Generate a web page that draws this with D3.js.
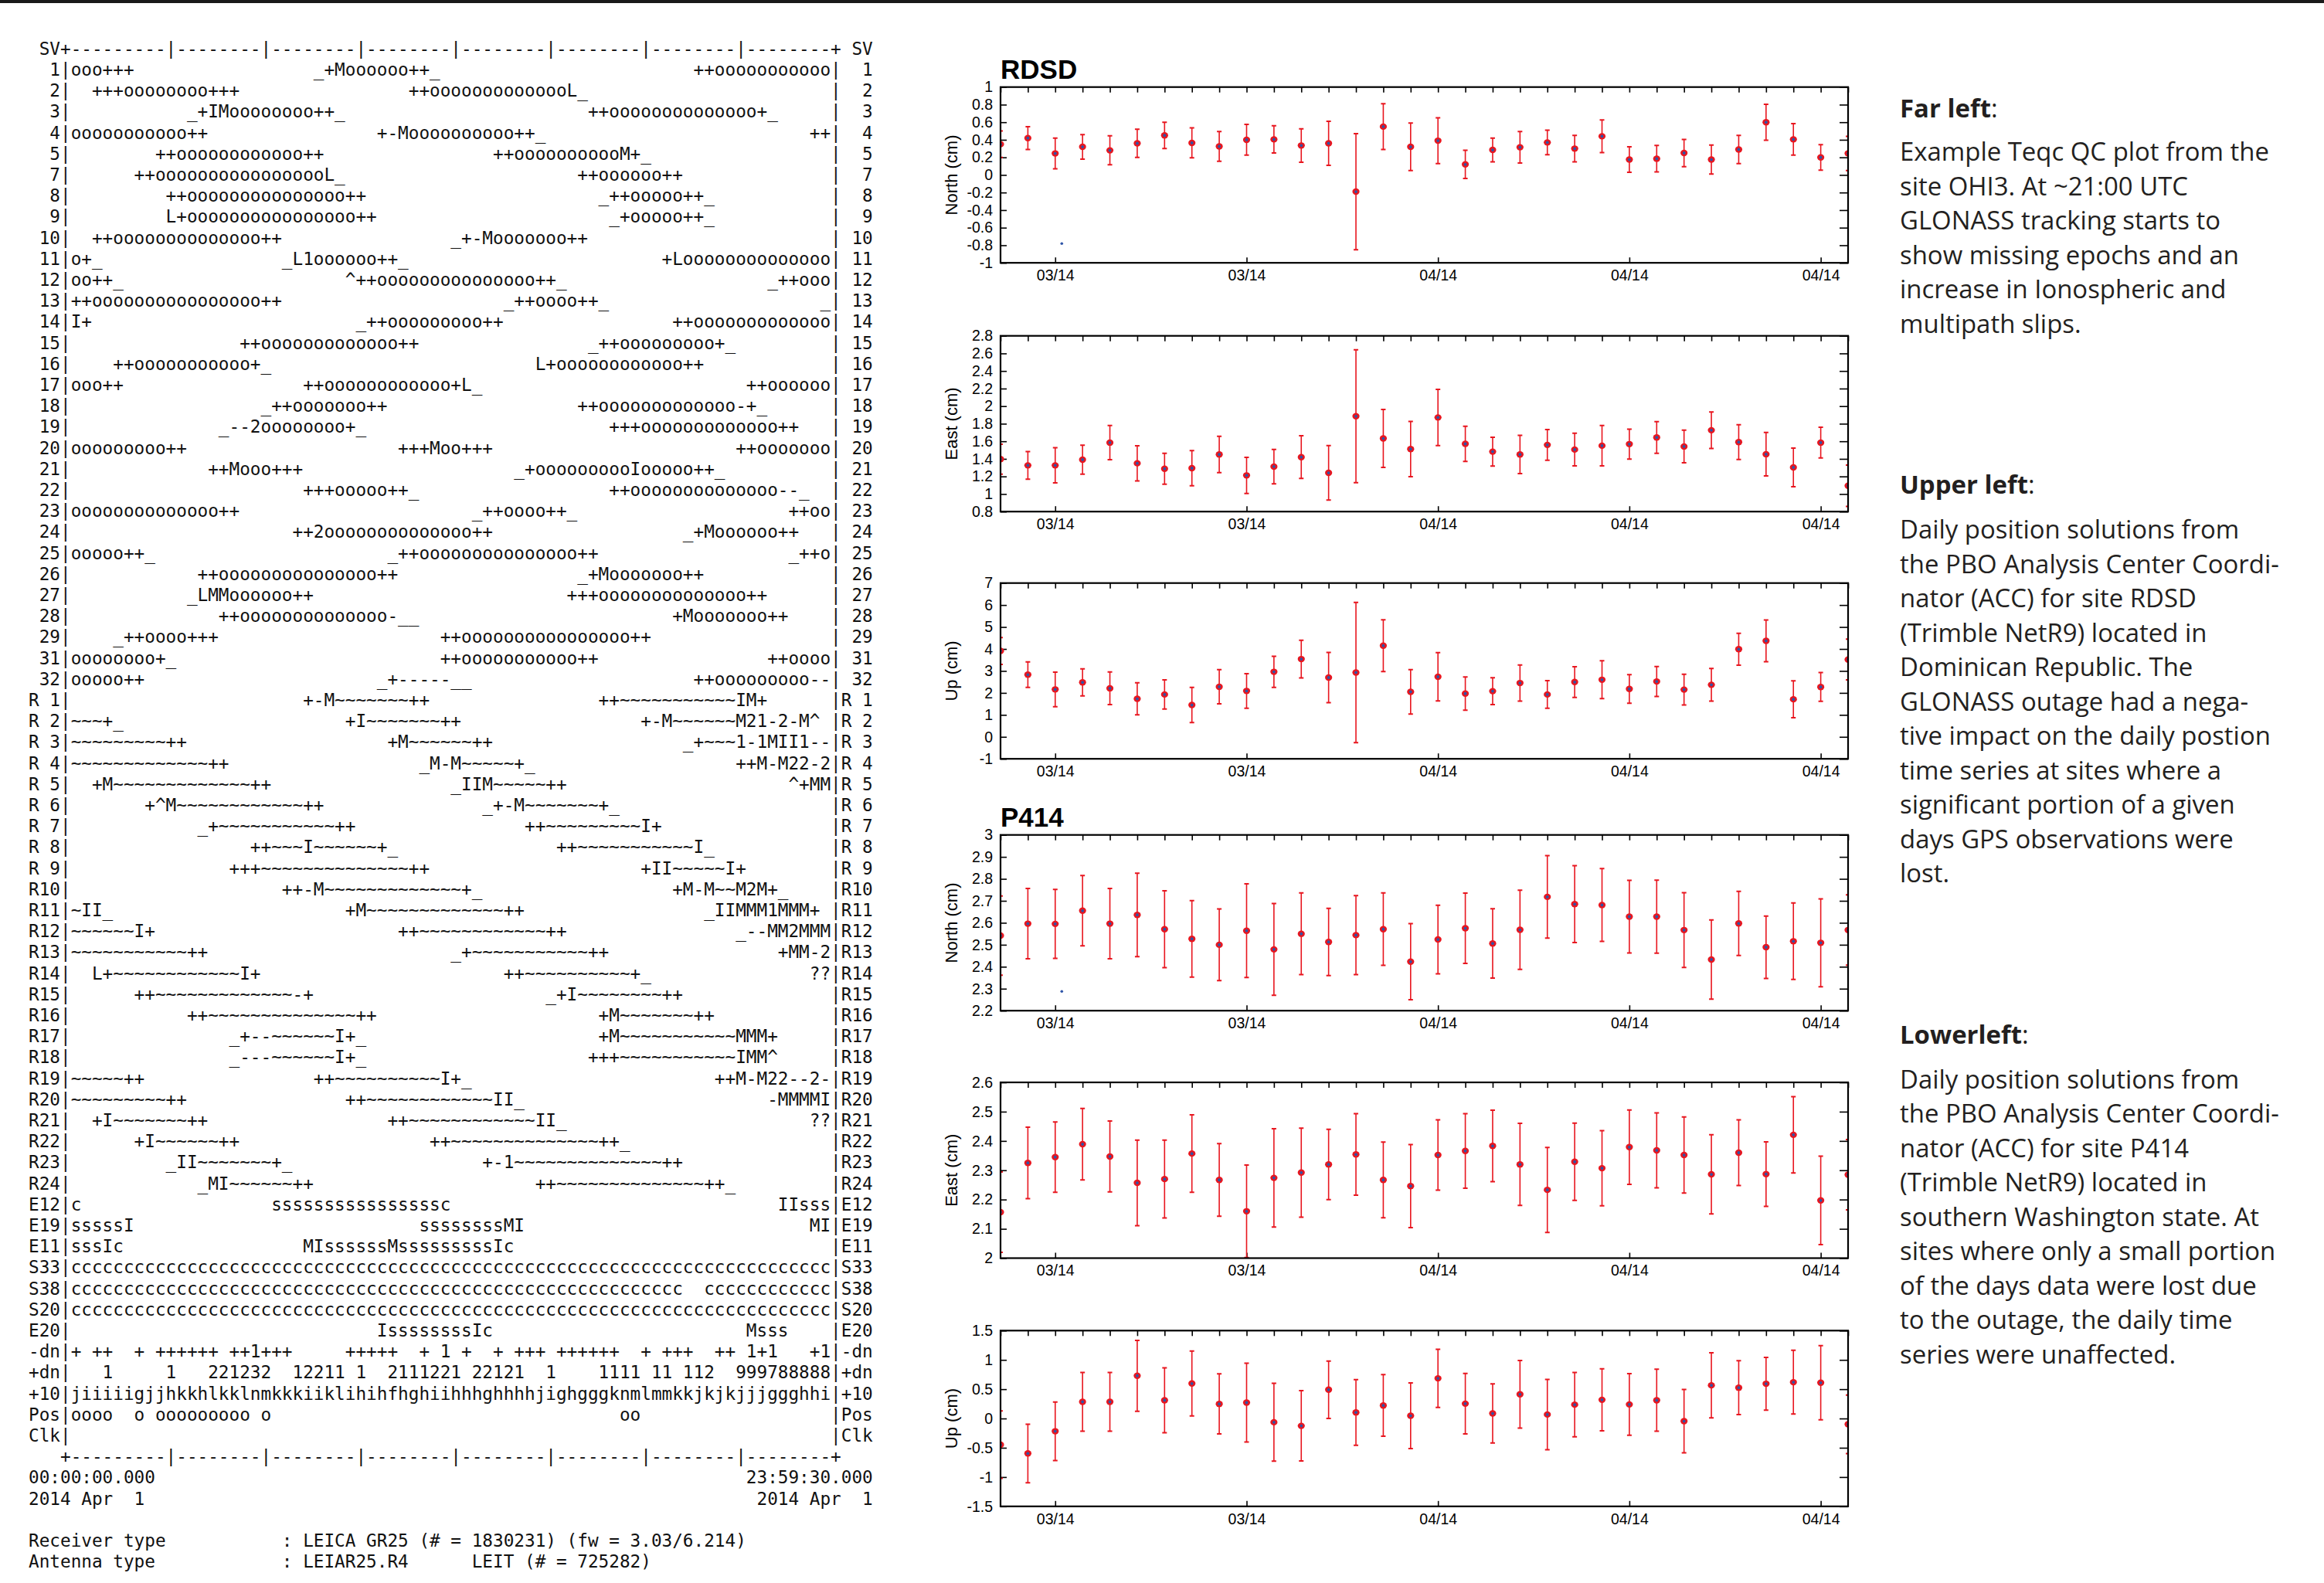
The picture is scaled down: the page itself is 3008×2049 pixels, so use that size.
<!DOCTYPE html>
<html>
<head>
<meta charset="utf-8">
<script src="https://cdn.jsdelivr.net/npm/d3@7"></script>
<style>
  body { margin: 0; background: #fff; }
  svg { display: block; }
</style>
</head>
<body>
<script>
// ---- time series data (32 daily solutions, value and 1-sigma in cm) ----
var xTickIndex = [2, 9, 16, 23, 30];
var xTickLabels = ["03/14", "03/14", "04/14", "04/14", "04/14"];

var rdsdNorth = [0.35,0.42,0.245,0.32,0.28,0.36,0.45,0.365,0.325,0.40,0.405,0.335,0.36,-0.19,0.55,0.32,0.39,0.12,0.285,0.315,0.37,0.30,0.44,0.175,0.185,0.25,0.175,0.29,0.60,0.405,0.20,0.245];
var rdsdNorthErr = [0.15,0.13,0.175,0.14,0.165,0.16,0.15,0.17,0.17,0.175,0.155,0.19,0.25,0.66,0.26,0.27,0.26,0.16,0.135,0.18,0.14,0.15,0.185,0.145,0.15,0.155,0.165,0.16,0.205,0.18,0.145,0.195];
var rdsdEast = [1.397,1.326,1.326,1.391,1.585,1.35,1.288,1.294,1.45,1.212,1.312,1.42,1.241,1.885,1.632,1.512,1.871,1.571,1.482,1.45,1.559,1.506,1.55,1.568,1.644,1.541,1.726,1.591,1.453,1.303,1.585,1.094];
var rdsdEastErr = [0.17,0.157,0.2,0.165,0.195,0.2,0.176,0.2,0.206,0.205,0.195,0.243,0.31,0.756,0.33,0.315,0.32,0.2,0.163,0.218,0.174,0.186,0.23,0.17,0.18,0.186,0.207,0.197,0.247,0.22,0.175,0.235];
var rdsdUp = [3.91,2.83,2.16,2.48,2.21,1.73,1.93,1.45,2.28,2.09,2.96,3.54,2.70,2.93,4.15,2.05,2.735,1.97,2.08,2.45,1.93,2.495,2.60,2.18,2.52,2.15,2.37,3.99,4.37,1.71,2.27,3.52];
var rdsdUpErr = [0.61,0.58,0.785,0.615,0.745,0.73,0.66,0.8,0.78,0.785,0.71,0.855,1.14,3.19,1.18,1.01,1.1,0.755,0.61,0.82,0.63,0.70,0.86,0.65,0.68,0.70,0.74,0.725,0.95,0.84,0.655,0.925];

var p414North = [2.542,2.596,2.595,2.655,2.596,2.636,2.571,2.527,2.50,2.564,2.479,2.55,2.513,2.544,2.571,2.423,2.524,2.575,2.506,2.568,2.718,2.685,2.681,2.628,2.628,2.567,2.433,2.597,2.489,2.516,2.509,2.567];
var p414NorthErr = [0.18,0.16,0.157,0.16,0.16,0.19,0.175,0.174,0.163,0.213,0.209,0.186,0.153,0.18,0.165,0.173,0.156,0.16,0.158,0.18,0.188,0.175,0.166,0.165,0.166,0.17,0.18,0.146,0.142,0.174,0.2,0.16];
var p414East = [2.157,2.325,2.345,2.389,2.347,2.257,2.27,2.357,2.267,2.16,2.274,2.292,2.32,2.354,2.267,2.246,2.352,2.366,2.383,2.32,2.233,2.329,2.307,2.379,2.368,2.352,2.286,2.36,2.287,2.421,2.197,2.285];
var p414EastErr = [0.137,0.122,0.12,0.122,0.121,0.146,0.133,0.132,0.124,0.158,0.168,0.152,0.12,0.139,0.129,0.142,0.12,0.127,0.122,0.14,0.145,0.132,0.128,0.127,0.128,0.13,0.135,0.112,0.11,0.13,0.151,0.12];
var p414Up = [-0.447,-0.597,-0.218,0.284,0.284,0.729,0.311,0.597,0.249,0.271,-0.064,-0.126,0.491,0.104,0.222,0.046,0.685,0.253,0.086,0.412,0.068,0.236,0.319,0.24,0.311,-0.046,0.566,0.526,0.593,0.619,0.61,-0.099];
var p414UpErr = [0.575,0.5,0.5,0.5,0.5,0.605,0.553,0.553,0.513,0.672,0.665,0.6,0.49,0.56,0.526,0.56,0.497,0.515,0.504,0.577,0.6,0.548,0.528,0.526,0.529,0.54,0.555,0.46,0.45,0.544,0.632,0.5];

// lone blue dots seen in the north panels
var rdsdStray = [[2.24, -0.78]];
var p414Stray = [[2.24, 2.288]];

// y tick values and labels
var tNorthR = [-1,-0.8,-0.6,-0.4,-0.2,0,0.2,0.4,0.6,0.8,1];
var lNorthR = ["-1","-0.8","-0.6","-0.4","-0.2","0","0.2","0.4","0.6","0.8","1"];
var tEastR = [0.8,1,1.2,1.4,1.6,1.8,2,2.2,2.4,2.6,2.8];
var lEastR = ["0.8","1","1.2","1.4","1.6","1.8","2","2.2","2.4","2.6","2.8"];
var tUpR = [-1,0,1,2,3,4,5,6,7];
var lUpR = ["-1","0","1","2","3","4","5","6","7"];
var tNorthP = [2.2,2.3,2.4,2.5,2.6,2.7,2.8,2.9,3];
var lNorthP = ["2.2","2.3","2.4","2.5","2.6","2.7","2.8","2.9","3"];
var tEastP = [2,2.1,2.2,2.3,2.4,2.5,2.6];
var lEastP = ["2","2.1","2.2","2.3","2.4","2.5","2.6"];
var tUpP = [-1.5,-1,-0.5,0,0.5,1,1.5];
var lUpP = ["-1.5","-1","-0.5","0","0.5","1","1.5"];

// ---- teqc qc text (label, [[column, text], ...]) ----
var teqcRows = [
  ["  1", [[0,"ooo+++"],[23,"_+Moooooo++_"],[59,"++ooooooooooo"]]],
  ["  2", [[2,"+++oooooooo+++"],[32,"++oooooooooooooL_"]]],
  ["  3", [[11,"_+IMoooooooo++_"],[49,"++oooooooooooooo+_"]]],
  ["  4", [[0,"ooooooooooo++"],[29,"+-Moooooooooo++_"],[70,"++"]]],
  ["  5", [[8,"++oooooooooooo++"],[40,"++ooooooooooM+_"]]],
  ["  7", [[6,"++ooooooooooooooooL_"],[48,"++oooooo++"]]],
  ["  8", [[9,"++ooooooooooooooo++"],[50,"_++ooooo++_"]]],
  ["  9", [[9,"L+oooooooooooooooo++"],[51,"_+ooooo++_"]]],
  [" 10", [[2,"++oooooooooooooo++"],[36,"_+-Mooooooo++"]]],
  [" 11", [[0,"o+_"],[20,"_L1oooooo++_"],[56,"+Loooooooooooooo"]]],
  [" 12", [[0,"oo++_"],[26,"^++ooooooooooooooo++_"],[66,"_++ooo"]]],
  [" 13", [[0,"++oooooooooooooooo++"],[41,"_++oooo++_"],[71,"_"]]],
  [" 14", [[0,"I+"],[27,"_++ooooooooo++"],[57,"++ooooooooooooo"]]],
  [" 15", [[16,"++ooooooooooooo++"],[49,"_++ooooooooo+_"]]],
  [" 16", [[4,"++ooooooooooo+_"],[44,"L+oooooooooooo++"]]],
  [" 17", [[0,"ooo++"],[22,"++oooooooooooo+L_"],[64,"++oooooo"]]],
  [" 18", [[18,"_++ooooooo++"],[48,"++ooooooooooooo-+_"]]],
  [" 19", [[14,"_--2oooooooo+_"],[51,"+++ooooooooooooo++"]]],
  [" 20", [[0,"ooooooooo++"],[31,"+++Moo+++"],[63,"++ooooooo"]]],
  [" 21", [[13,"++Mooo+++"],[42,"_+oooooooooIooooo++_"]]],
  [" 22", [[22,"+++ooooo++_"],[51,"++oooooooooooooo--_"]]],
  [" 23", [[0,"oooooooooooooo++"],[38,"_++oooo++_"],[68,"++oo"]]],
  [" 24", [[21,"++2oooooooooooooo++"],[58,"_+Moooooo++"]]],
  [" 25", [[0,"ooooo++_"],[30,"_++ooooooooooooooo++"],[68,"_++o"]]],
  [" 26", [[12,"++ooooooooooooooo++"],[48,"_+Mooooooo++"]]],
  [" 27", [[11,"_LMMoooooo++"],[47,"+++oooooooooooooo++"]]],
  [" 28", [[14,"++oooooooooooooo-__"],[57,"+Mooooooo++"]]],
  [" 29", [[4,"_++oooo+++"],[35,"++oooooooooooooooo++"]]],
  [" 31", [[0,"oooooooo+_"],[35,"++ooooooooooo++"],[66,"++oooo"]]],
  [" 32", [[0,"ooooo++"],[29,"_+-----__"],[59,"++ooooooooo--"]]],
  ["R 1", [[22,"+-M~~~~~~~++"],[50,"++~~~~~~~~~~~IM+"]]],
  ["R 2", [[0,"~~~+_"],[26,"+I~~~~~~~++"],[54,"+-M~~~~~~M21-2-M^"]]],
  ["R 3", [[0,"~~~~~~~~~++"],[30,"+M~~~~~~++"],[58,"_+~~~1-1MII1--"]]],
  ["R 4", [[0,"~~~~~~~~~~~~~++"],[33,"_M-M~~~~~+_"],[63,"++M-M22-2"]]],
  ["R 5", [[2,"+M~~~~~~~~~~~~~++"],[36,"_IIM~~~~~++"],[68,"^+MM"]]],
  ["R 6", [[7,"+^M~~~~~~~~~~~~++"],[39,"_+-M~~~~~~~+_"]]],
  ["R 7", [[12,"_+~~~~~~~~~~~++"],[43,"++~~~~~~~~~I+"]]],
  ["R 8", [[17,"++~~~I~~~~~~+_"],[46,"++~~~~~~~~~~~I_"]]],
  ["R 9", [[15,"+++~~~~~~~~~~~~~~++"],[54,"+II~~~~~I+"]]],
  ["R10", [[20,"++-M~~~~~~~~~~~~~+_"],[57,"+M-M~~M2M+_"]]],
  ["R11", [[0,"~II_"],[26,"+M~~~~~~~~~~~~~++"],[60,"_IIMMM1MMM+"]]],
  ["R12", [[0,"~~~~~~I+"],[31,"++~~~~~~~~~~~~++"],[63,"_--MM2MMM"]]],
  ["R13", [[0,"~~~~~~~~~~~++"],[36,"_+~~~~~~~~~~~++"],[67,"+MM-2"]]],
  ["R14", [[2,"L+~~~~~~~~~~~~I+"],[41,"++~~~~~~~~~~+_"],[70,"??"]]],
  ["R15", [[6,"++~~~~~~~~~~~~~-+"],[45,"_+I~~~~~~~~++"]]],
  ["R16", [[11,"++~~~~~~~~~~~~~~++"],[50,"+M~~~~~~~++"]]],
  ["R17", [[15,"_+--~~~~~~I+_"],[50,"+M~~~~~~~~~~~MMM+"]]],
  ["R18", [[15,"_---~~~~~~I+_"],[49,"+++~~~~~~~~~~~IMM^"]]],
  ["R19", [[0,"~~~~~++"],[23,"++~~~~~~~~~~I+_"],[61,"++M-M22--2-"]]],
  ["R20", [[0,"~~~~~~~~~++"],[26,"++~~~~~~~~~~~~II_"],[66,"-MMMMI"]]],
  ["R21", [[2,"+I~~~~~~~++"],[30,"++~~~~~~~~~~~~II_"],[70,"??"]]],
  ["R22", [[6,"+I~~~~~~++"],[34,"++~~~~~~~~~~~~~~++_"]]],
  ["R23", [[9,"_II~~~~~~~+_"],[39,"+-1~~~~~~~~~~~~~~++"]]],
  ["R24", [[12,"_MI~~~~~~++"],[44,"++~~~~~~~~~~~~~~++_"]]],
  ["E12", [[0,"c"],[19,"ssssssssssssssssc"],[67,"IIsss"]]],
  ["E19", [[0,"sssssI"],[33,"ssssssssMI"],[70,"MI"]]],
  ["E11", [[0,"sssIc"],[22,"MIssssssMsssssssssIc"]]],
  ["S33", [[0,"cccccccccccccccccccccccccccccccccccccccccccccccccccccccccccccccccccccccc"]]],
  ["S38", [[0,"cccccccccccccccccccccccccccccccccccccccccccccccccccccccccc"],[60,"cccccccccccc"]]],
  ["S20", [[0,"cccccccccccccccccccccccccccccccccccccccccccccccccccccccccccccccccccccccc"]]],
  ["E20", [[29,"IssssssssIc"],[64,"Msss"]]],
  ["-dn", [[0,"+ ++  + ++++++ ++1+++     +++++  + 1 +  + +++ ++++++  + +++  ++ 1+1   +1"]]],
  ["+dn", [[3,"1"],[9,"1"],[13,"221232"],[21,"12211 1"],[30,"2111221 22121"],[45,"1"],[50,"1111 11 112"],[63,"999788888"]]],
  ["+10", [[0,"jiiiiigjjhkkhlkklnmkkkiiklihihfhghiihhhghhhhjighgggknmlmmkkjkjkjjjggghhi"]]],
  ["Pos", [[0,"oooo"],[6,"o"],[8,"ooooooooo"],[18,"o"],[52,"oo"]]],
  ["Clk", []]
];

var noteFar = ["Example Teqc QC plot from the", "site OHI3. At ~21:00 UTC", "GLONASS tracking starts to",
  "show missing epochs and an", "increase in Ionospheric and", "multipath slips."];
var noteUpper = ["Daily position solutions from", "the PBO Analysis Center Coordi-", "nator (ACC) for site RDSD",
  "(Trimble NetR9) located in", "Dominican Republic. The", "GLONASS outage had a nega-",
  "tive impact on the daily postion", "time series at sites where a", "significant portion of a given",
  "days GPS observations were", "lost."];
var noteLower = ["Daily position solutions from", "the PBO Analysis Center Coordi-", "nator (ACC) for site P414",
  "(Trimble NetR9) located in", "southern Washington state. At", "sites where only a small portion",
  "of the days data were lost due", "to the outage, the daily time", "series were unaffected."];

var W = 3008, H = 2049;
var svg = d3.select("body").append("svg").attr("width", W).attr("height", H);
svg.append("rect").attr("width", W).attr("height", H).attr("fill", "#fff");
svg.append("rect").attr("x", 0).attr("y", 0).attr("width", W).attr("height", 4).attr("fill", "#1a1a1a");

// ---- left: teqc text block ----
var ruler = "+" + "-".repeat(9) + ("|" + "-".repeat(8)).repeat(7) + "+";
function teqcLine(label, segs) {
  var a = [];
  for (var i = 0; i < 72; i++) a.push(" ");
  segs.forEach(function(s) {
    for (var j = 0; j < s[1].length; j++) a[s[0] + j] = s[1][j];
  });
  return label + "|" + a.join("") + "|" + label;
}
function padTo(s, n) { while (s.length < n) s += " "; return s; }

var lines = [" SV" + ruler + " SV"];
teqcRows.forEach(function(r) { lines.push(teqcLine(r[0], r[1])); });
lines.push("   " + ruler);
lines.push(padTo("00:00:00.000", 68) + "23:59:30.000");
lines.push(padTo("2014 Apr  1", 69) + "2014 Apr  1");
lines.push("");
lines.push(padTo("Receiver type", 24) + ": LEICA GR25 (# = 1830231) (fw = 3.03/6.214)");
lines.push(padTo("Antenna type", 24) + ": " + padTo("LEIAR25.R4", 16) + "LEIT (# = 725282)");

svg.append("g").selectAll("text").data(lines).enter().append("text")
  .attr("x", 37)
  .attr("y", function(d, i) { return 63.3 + 27.2 * i + 7.5; })
  .attr("xml:space", "preserve")
  .style("white-space", "pre")
  .style("font-family", "'DejaVu Sans Mono', monospace")
  .style("font-size", "22.7px")
  .attr("fill", "#111")
  .text(function(d) { return d; });

// ---- middle: six error-bar panels ----
var plotL = 1295, plotR = 2392, plotH = 227.5;
var x = d3.scaleLinear().domain([0, 31]).range([plotL, plotR]);
var red = "#e8161f", blue = "#2f55a8";

var panels = [
  {top: 112.7, title: "RDSD", label: "North (cm)", dom: [-1, 1], v: rdsdNorth, e: rdsdNorthErr, t: tNorthR, l: lNorthR, stray: rdsdStray},
  {top: 434.7, label: "East (cm)", dom: [0.8, 2.8], v: rdsdEast, e: rdsdEastErr, t: tEastR, l: lEastR},
  {top: 754.7, label: "Up (cm)", dom: [-1, 7], v: rdsdUp, e: rdsdUpErr, t: tUpR, l: lUpR},
  {top: 1080.7, title: "P414", label: "North (cm)", dom: [2.2, 3], v: p414North, e: p414NorthErr, t: tNorthP, l: lNorthP, stray: p414Stray},
  {top: 1401, label: "East (cm)", dom: [2, 2.6], v: p414East, e: p414EastErr, t: tEastP, l: lEastP},
  {top: 1722.3, label: "Up (cm)", dom: [-1.5, 1.5], v: p414Up, e: p414UpErr, t: tUpP, l: lUpP}
];

panels.forEach(function(p, k) {
  var top = p.top, bot = top + plotH;
  var y = d3.scaleLinear().domain(p.dom).range([bot, top]);
  var g = svg.append("g");

  g.append("clipPath").attr("id", "clip" + k)
    .append("rect").attr("x", plotL).attr("y", top).attr("width", plotR - plotL).attr("height", plotH);

  var axFont = function(sel) {
    sel.select(".domain").remove();
    sel.selectAll("line").attr("stroke", "#000").attr("stroke-width", 1.6);
    sel.selectAll("text").style("font-family", "'Liberation Sans', Arial, sans-serif").style("font-size", "19.5px").attr("fill", "#000");
  };

  g.append("g").attr("transform", "translate(" + plotL + ",0)")
    .call(d3.axisLeft(y).tickValues(p.t).tickSize(-8).tickPadding(10)
      .tickFormat(function(d, i) { return p.l[i]; }))
    .call(axFont);
  g.append("g").attr("transform", "translate(" + plotR + ",0)")
    .call(d3.axisRight(y).tickValues(p.t).tickSize(-11).tickFormat(""))
    .call(axFont);
  g.append("g").attr("transform", "translate(0," + top + ")")
    .call(d3.axisTop(x).tickValues(d3.range(32)).tickSize(-7).tickFormat(""))
    .call(axFont);
  g.append("g").attr("transform", "translate(0," + bot + ")")
    .call(d3.axisBottom(x).tickValues(xTickIndex).tickSize(-7).tickPadding(9)
      .tickFormat(function(d, i) { return xTickLabels[i]; }))
    .call(axFont);

  // error bars
  var data = p.v.map(function(v, i) { return {i: i, v: v, e: p.e[i]}; });
  var pg = g.append("g").attr("clip-path", "url(#clip" + k + ")");
  var bars = pg.selectAll(".bar").data(data).enter().append("g");
  bars.append("line")
    .attr("x1", function(d) { return x(d.i); }).attr("x2", function(d) { return x(d.i); })
    .attr("y1", function(d) { return y(d.v - d.e); }).attr("y2", function(d) { return y(d.v + d.e); })
    .attr("stroke", red).attr("stroke-width", 1.6);
  [-1, 1].forEach(function(s) {
    bars.append("line")
      .attr("x1", function(d) { return x(d.i) - 3; }).attr("x2", function(d) { return x(d.i) + 3; })
      .attr("y1", function(d) { return y(d.v + s * d.e); }).attr("y2", function(d) { return y(d.v + s * d.e); })
      .attr("stroke", red).attr("stroke-width", 2);
  });
  bars.append("ellipse")
    .attr("cx", function(d) { return x(d.i); }).attr("cy", function(d) { return y(d.v); })
    .attr("rx", 4.6).attr("ry", 4.2).attr("fill", red);
  bars.append("circle")
    .attr("cx", function(d) { return x(d.i); }).attr("cy", function(d) { return y(d.v); })
    .attr("r", 1.9).attr("fill", blue);

  if (p.stray) {
    pg.selectAll(".stray").data(p.stray).enter().append("circle")
      .attr("cx", function(d) { return x(d[0]); }).attr("cy", function(d) { return y(d[1]); })
      .attr("r", 1.8).attr("fill", blue);
  }

  // frame
  g.append("rect").attr("x", plotL).attr("y", top).attr("width", plotR - plotL).attr("height", plotH)
    .attr("fill", "none").attr("stroke", "#000").attr("stroke-width", 2.2);

  g.append("text")
    .attr("transform", "translate(1231," + (top + plotH / 2) + ") rotate(-90)")
    .attr("text-anchor", "middle").attr("dy", "0.36em")
    .style("font-family", "'Liberation Sans', Arial, sans-serif").style("font-size", "22px")
    .text(p.label);

  if (p.title) {
    g.append("text").attr("x", plotL).attr("y", top - 11)
      .style("font-family", "'Liberation Sans', Arial, sans-serif").style("font-size", "35px")
      .style("font-weight", "bold").text(p.title);
  }
});

// ---- right: notes ----
var noteFont = "'Open Sans', 'Noto Sans', sans-serif";
var probe = svg.append("text").style("font-family", noteFont).style("font-size", "30px").text(noteFar[0]);
var fs = 30 * 478 / probe.node().getComputedTextLength();
probe.remove();
var noteX = 2459, lh = 44.5;

function note(head, body, headY, bodyY) {
  var h = svg.append("text").attr("x", noteX).attr("y", headY)
    .style("font-family", noteFont).style("font-size", fs + "px").attr("fill", "#231f20");
  h.append("tspan").style("font-weight", "bold").text(head);
  h.append("tspan").text(":");
  svg.append("g").selectAll("text").data(body).enter().append("text")
    .attr("x", noteX).attr("y", function(d, i) { return bodyY + i * lh; })
    .style("font-family", noteFont).style("font-size", fs + "px").attr("fill", "#231f20")
    .text(function(d) { return d; });
}
note("Far left", noteFar, 151.7, 208);
note("Upper left", noteUpper, 638.9, 697);
note("Lowerleft", noteLower, 1350.7, 1408.7);
</script>
</body>
</html>
